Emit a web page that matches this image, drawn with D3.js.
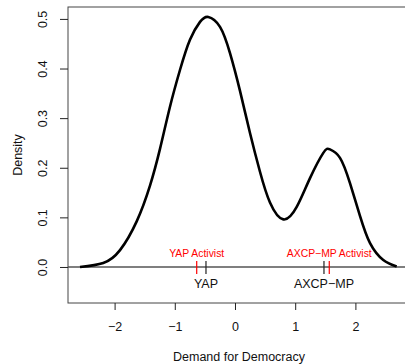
<!DOCTYPE html>
<html>
<head>
<meta charset="utf-8">
<script src="https://cdn.jsdelivr.net/npm/d3@7"></script>
<style>
  body { margin: 0; background: #fff; }
  svg { display: block; font-family: "Liberation Sans", Arial, sans-serif; }
</style>
</head>
<body>
<svg id="chart" width="405" height="364"></svg>
<script>
// density curve
var densX = [-2.575, -2.188, -1.910, -1.633, -1.412, -1.246, -1.080, -0.914, -0.748, -0.581, -0.444, -0.249, -0.083,
             0.083, 0.249, 0.415, 0.581, 0.802, 1.025, 1.246, 1.467, 1.578, 1.744, 1.910, 2.076, 2.243, 2.463, 2.686];
var densY = [0.000, 0.008, 0.034, 0.092, 0.164, 0.238, 0.323, 0.397, 0.458, 0.494, 0.504, 0.484, 0.431,
             0.355, 0.270, 0.192, 0.130, 0.096, 0.121, 0.179, 0.230, 0.237, 0.220, 0.169, 0.103, 0.048, 0.014, 0.001];

var partyNames = ["YAP", "AXCP\u2212MP"];
var partyVals = [-0.482, 1.478];
var activistNames = ["YAP Activist", "AXCP\u2212MP Activist"];
var activistVals = [-0.636, 1.566];

var xTicks = [-2, -1, 0, 1, 2];
var yTicks = [0, 0.1, 0.2, 0.3, 0.4, 0.5];

var svg = d3.select("#chart");

var pLeft = 68, pRight = 410, pTop = 7, pBottom = 303;
var x = d3.scaleLinear().domain([-2.774, 2.907]).range([pLeft, pRight]),
    y = d3.scaleLinear().domain([-0.0726, 0.524]).range([pBottom, pTop]);

// box
svg.append("rect")
  .attr("x", pLeft).attr("y", pTop)
  .attr("width", pRight - pLeft).attr("height", pBottom - pTop)
  .attr("fill", "none").attr("stroke", "#444").attr("stroke-width", 1);

// zero line
svg.append("line")
  .attr("x1", pLeft).attr("x2", pRight)
  .attr("y1", y(0)).attr("y2", y(0))
  .attr("stroke", "#555").attr("stroke-width", 1.6);

// x axis
var gx = svg.append("g")
  .attr("transform", "translate(0," + pBottom + ")")
  .call(d3.axisBottom(x).tickValues(xTicks).tickFormat(d3.format("d")).tickSize(7).tickPadding(12));
gx.select(".domain").remove();
gx.selectAll("line").attr("stroke", "#222");
gx.selectAll("text").attr("font-size", 12.5).attr("fill", "#111").attr("font-family", "Liberation Sans, Arial, sans-serif");

// y axis, labels turned like R's las=0
var gy = svg.append("g")
  .attr("transform", "translate(" + pLeft + ",0)")
  .call(d3.axisLeft(y).tickValues(yTicks).tickFormat(d3.format(".1f")).tickSize(8));
gy.select(".domain").remove();
gy.selectAll("line").attr("stroke", "#222");
gy.selectAll(".tick text")
  .attr("font-size", 12.5).attr("fill", "#111").attr("font-family", "Liberation Sans, Arial, sans-serif")
  .attr("text-anchor", "middle").attr("dy", null)
  .attr("x", 0).attr("y", 0)
  .attr("transform", "translate(-21,0) rotate(-90)");

// titles
svg.append("text")
  .attr("x", (pLeft + pRight) / 2).attr("y", 361)
  .attr("text-anchor", "middle").attr("font-size", 12.5).attr("fill", "#111")
  .text("Demand for Democracy");
svg.append("text")
  .attr("transform", "translate(22," + (pTop + pBottom) / 2 + ") rotate(-90)")
  .attr("text-anchor", "middle").attr("font-size", 12.5).attr("fill", "#111")
  .text("Density");

// density line
var pts = densX.map(function(d, i) { return [d, densY[i]]; });
svg.append("path")
  .datum(pts)
  .attr("fill", "none").attr("stroke", "#000").attr("stroke-width", 2.6)
  .attr("d", d3.line().x(d => x(d[0])).y(d => y(d[1])).curve(d3.curveNatural));

// rug marks and labels
svg.append("g").selectAll("line")
  .data(partyVals).enter().append("line")
  .attr("x1", d => x(d)).attr("x2", d => x(d))
  .attr("y1", y(0) - 6).attr("y2", y(0) + 7)
  .attr("stroke", "#222").attr("stroke-width", 1.2);
svg.append("g").selectAll("line")
  .data(activistVals).enter().append("line")
  .attr("x1", d => x(d)).attr("x2", d => x(d))
  .attr("y1", y(0) - 6).attr("y2", y(0) + 7)
  .attr("stroke", "red").attr("stroke-width", 1.2);

svg.append("g").selectAll("text")
  .data(partyNames).enter().append("text")
  .attr("x", (d, i) => x(partyVals[i])).attr("y", y(0) + 21)
  .attr("text-anchor", "middle").attr("font-size", 12.5).attr("fill", "#111")
  .text(d => d);
svg.append("g").selectAll("text")
  .data(activistNames).enter().append("text")
  .attr("x", (d, i) => x(activistVals[i])).attr("y", y(0) - 10)
  .attr("text-anchor", "middle").attr("font-size", 10.4).attr("fill", "red")
  .text(d => d);
</script>
</body>
</html>
